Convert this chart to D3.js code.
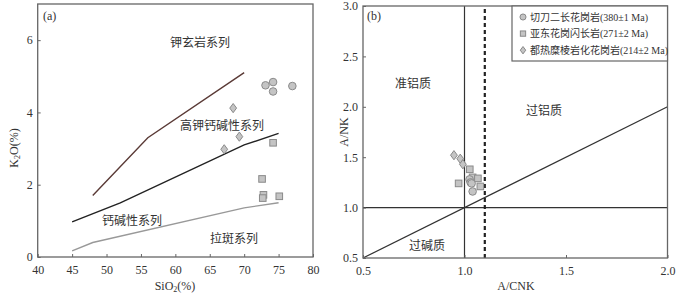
<!DOCTYPE html>
<html>
<head>
<meta charset="utf-8">
<script src="https://cdn.jsdelivr.net/npm/d3@7"></script>
<style>
  body { margin:0; background:#fff; }
  svg text { font-family: "Liberation Serif", "Times New Roman", "Noto Sans CJK SC", serif; fill:#333; }
</style>
</head>
<body>
<div id="chart"></div>
<script>
// ===== data: panel (a) SiO2 - K2O =====
var siO2Ticks = [40, 45, 50, 55, 60, 65, 70, 75, 80];
var k2oTicks  = [0, 2, 4, 6];
// series boundary lines [SiO2, K2O]
var lineShoshonite = [[48, 1.7], [56, 3.3], [70, 5.1]];
var lineHighK      = [[45, 0.97], [52, 1.5], [70, 3.1], [75, 3.42]];
var lineTholeiite  = [[45, 0.17], [48, 0.4], [70, 1.36], [75, 1.5]];
// samples [SiO2, K2O]
var qiedaoA  = [[73.1, 4.75], [74.2, 4.84], [74.2, 4.58], [77, 4.73]];
var yadongA  = [[74.2, 3.16], [72.6, 2.16], [72.8, 1.72], [72.7, 1.63], [75.1, 1.68]];
var dureA    = [[68.4, 4.12], [69.3, 3.33], [67.1, 2.98]];

// ===== data: panel (b) A/CNK - A/NK =====
var acnkTicks = [0.5, 1.0, 1.5, 2.0];
var ankTicks  = [0.5, 1.0, 1.5, 2.0, 2.5, 3.0];
var qiedaoB  = [[1.025, 1.28], [1.03, 1.25], [1.035, 1.24], [1.04, 1.16]];
var yadongB  = [[1.026, 1.38], [0.971, 1.24], [1.04, 1.30], [1.066, 1.29], [1.078, 1.21]];
var dureB    = [[0.948, 1.52], [0.979, 1.485], [0.992, 1.43]];

var legendNames = ["切刀二长花岗岩(380±1 Ma)", "亚东花岗闪长岩(271±2 Ma)", "都热糜棱岩化花岗岩(214±2 Ma)"];

var W = 685, H = 298;
var serif = "'Liberation Serif', 'Times New Roman', serif";
var svg = d3.select("#chart").append("svg")
  .attr("width", W).attr("height", H)
  .attr("viewBox", "0 0 " + W + " " + H);

var frameColor = "#666";
var ptFill = "#c4c4c4", ptStroke = "#8a8a8a";

function drawFrame(g, x, y){
  var x0 = x.range()[0], x1 = x.range()[1], y0 = y.range()[0], y1 = y.range()[1];
  g.append("rect")
    .attr("x", x0).attr("y", y1)
    .attr("width", x1 - x0).attr("height", y0 - y1)
    .attr("fill", "none").attr("stroke", frameColor).attr("stroke-width", 1.3);
}

function drawAxes(g, x, y, xt, yt, fmt){
  var xa = g.append("g")
    .attr("transform", "translate(0," + y.range()[0] + ")")
    .call(d3.axisBottom(x).tickValues(xt).tickSize(-3).tickPadding(8).tickFormat(fmt));
  var ya = g.append("g")
    .attr("transform", "translate(" + x.range()[0] + ",0)")
    .call(d3.axisLeft(y).tickValues(yt).tickSize(-3).tickPadding(5).tickFormat(fmt));
  [xa, ya].forEach(function(a){
    a.attr("font-family", serif).attr("font-size", 12);
    a.select(".domain").remove();
    a.selectAll("line").attr("stroke", frameColor);
    a.selectAll("text").style("font-size", "12px").attr("fill", "#333")
      .style("font-family", serif);
  });
}

function drawPoints(g, data, shape, x, y){
  data.forEach(function(d){
    drawSymbol(g, shape, x(d[0]), y(d[1]), 1);
  });
}

function drawSymbol(g, shape, cx, cy, s){
  if (shape === "circle"){
    g.append("circle").attr("cx", cx).attr("cy", cy).attr("r", 3.8 * s)
      .attr("fill", ptFill).attr("stroke", ptStroke).attr("stroke-width", 1);
  } else if (shape === "square"){
    var h = 3.3 * s;
    g.append("rect").attr("x", cx - h).attr("y", cy - h).attr("width", 2 * h).attr("height", 2 * h)
      .attr("fill", ptFill).attr("stroke", ptStroke).attr("stroke-width", 1);
  } else {
    var a = 3.4 * s, b = 4.6 * s;
    g.append("path")
      .attr("d", "M" + cx + "," + (cy - b) + "L" + (cx + a) + "," + cy + "L" + cx + "," + (cy + b) + "L" + (cx - a) + "," + cy + "Z")
      .attr("fill", ptFill).attr("stroke", ptStroke).attr("stroke-width", 1);
  }
}

function label(g, txt, x, y, size, anchor){
  return g.append("text").attr("x", x).attr("y", y)
    .attr("text-anchor", anchor || "middle")
    .attr("dominant-baseline", "central")
    .style("font-size", (size || 12) + "px")
    .style("font-family", "'Liberation Serif', 'Noto Sans CJK SC', serif")
    .attr("fill", "#444")
    .text(txt);
}

function serifText(g, x, y, txt){
  return g.append("text").attr("x", x).attr("y", y)
    .attr("dominant-baseline", "central")
    .style("font-size", "12px").style("font-family", serif)
    .text(txt);
}

// ================= panel (a) =================
var ga = svg.append("g");
var xa = d3.scaleLinear().domain([40, 80]).range([37.7, 313]);
var ya = d3.scaleLinear().domain([0, 7]).range([257, 4]);

var line = d3.line().x(function(d){ return xa(d[0]); }).y(function(d){ return ya(d[1]); });
ga.append("path").datum(lineShoshonite).attr("d", line)
  .attr("fill", "none").attr("stroke", "#5a3a36").attr("stroke-width", 1.4);
ga.append("path").datum(lineHighK).attr("d", line)
  .attr("fill", "none").attr("stroke", "#222").attr("stroke-width", 1.4);
ga.append("path").datum(lineTholeiite).attr("d", line)
  .attr("fill", "none").attr("stroke", "#999").attr("stroke-width", 1.4);

drawPoints(ga, qiedaoA, "circle", xa, ya);
drawPoints(ga, yadongA, "square", xa, ya);
drawPoints(ga, dureA, "diamond", xa, ya);

drawFrame(ga, xa, ya);
drawAxes(ga, xa, ya, siO2Ticks, k2oTicks, d3.format("d"));

serifText(ga, 43, 16, "(a)");
label(ga, "钾玄岩系列", 200, 43);
label(ga, "高钾钙碱性系列", 222, 126);
label(ga, "钙碱性系列", 132, 221);
label(ga, "拉斑系列", 234, 239);

var xt = serifText(ga, 175, 286, "").attr("text-anchor", "middle");
xt.append("tspan").text("SiO");
xt.append("tspan").attr("dy", 3).style("font-size", "8px").text("2");
xt.append("tspan").attr("dy", -3).text("(%)");

var yt = ga.append("text").attr("transform", "translate(14,148) rotate(-90)")
  .attr("text-anchor", "middle").attr("dominant-baseline", "central")
  .style("font-size", "12px").style("font-family", serif);
yt.append("tspan").text("K");
yt.append("tspan").attr("dy", 3).style("font-size", "8px").text("2");
yt.append("tspan").attr("dy", -3).text("O(%)");

// ================= panel (b) =================
var gb = svg.append("g");
var xb = d3.scaleLinear().domain([0.5, 2.0]).range([363, 667.5]);
var yb = d3.scaleLinear().domain([0.5, 3.0]).range([258, 6]);

// reference lines
gb.append("line").attr("x1", xb(1.0)).attr("x2", xb(1.0)).attr("y1", yb(0.5)).attr("y2", yb(3.0))
  .attr("stroke", "#333").attr("stroke-width", 1.2);
gb.append("line").attr("x1", xb(0.5)).attr("x2", xb(2.0)).attr("y1", yb(1.0)).attr("y2", yb(1.0))
  .attr("stroke", "#333").attr("stroke-width", 1.2);
gb.append("line").attr("x1", xb(1.1)).attr("x2", xb(1.1)).attr("y1", yb(0.5)).attr("y2", yb(3.0))
  .attr("stroke", "#222").attr("stroke-width", 2.2).attr("stroke-dasharray", "4,3");
gb.append("line").attr("x1", xb(0.5)).attr("x2", xb(2.0)).attr("y1", yb(0.5)).attr("y2", yb(2.0))
  .attr("stroke", "#333").attr("stroke-width", 1.2);

drawPoints(gb, dureB, "diamond", xb, yb);
drawPoints(gb, yadongB, "square", xb, yb);
drawPoints(gb, qiedaoB, "circle", xb, yb);

drawFrame(gb, xb, yb);
drawAxes(gb, xb, yb, acnkTicks, ankTicks, d3.format(".1f"));

serifText(gb, 367, 16, "(b)");
label(gb, "准铝质", 413, 84);
label(gb, "过铝质", 544, 111);
label(gb, "过碱质", 427, 246);

serifText(gb, 516, 286, "A/CNK").attr("text-anchor", "middle");
gb.append("text").attr("transform", "translate(344,132) rotate(-90)")
  .attr("text-anchor", "middle").attr("dominant-baseline", "central")
  .style("font-size", "12px").style("font-family", serif).text("A/NK");

// legend
var lg = gb.append("g");
lg.append("rect").attr("x", 512).attr("y", yb(3.0)).attr("width", xb(2.0) - 512).attr("height", 61 - yb(3.0))
  .attr("fill", "#fff").attr("stroke", frameColor).attr("stroke-width", 1.2);
["circle", "square", "diamond"].forEach(function(s, i){
  var cy = 17 + i * 16.6;
  drawSymbol(lg, s, 523, cy, 0.8);
  label(lg, legendNames[i], 530, cy, 10, "start").attr("fill", "#333");
});
</script>
</body>
</html>
